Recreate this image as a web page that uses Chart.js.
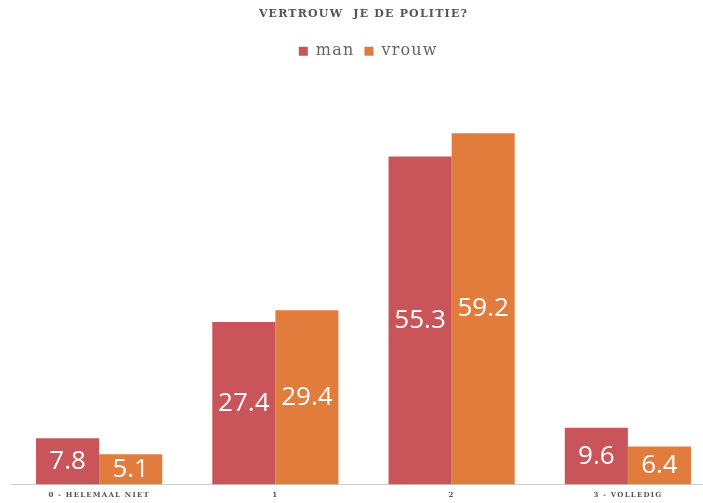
<!DOCTYPE html>
<html>
<head>
<meta charset="utf-8">
<script src="https://cdn.jsdelivr.net/npm/chart.js@4"></script>
<style>
  html, body { margin: 0; padding: 0; background: #fff; overflow: hidden; }
  #wrap { width: 716px; height: 508px; }
</style>
</head>
<body>
<div id="wrap"><canvas id="chart" width="716" height="508"></canvas></div>
<script>
// data
var categories = ["0 - HELEMAAL NIET", "1", "2", "3 - VOLLEDIG"];
var manValues = [7.8, 27.4, 55.3, 9.6];
var vrouwValues = [5.1, 29.4, 59.2, 6.4];

// letter spacing for axis text + title, labels drawn without it
var spacingPlugin = {
    id: "spacing",
    beforeDraw: function (chart) {
        chart.ctx.letterSpacing = "1.2px";
    },
    afterDatasetsDraw: function (chart) {
        var ctx = chart.ctx;
        ctx.save();
        ctx.letterSpacing = "0px";
        ctx.font = "26px 'Open Sans'";
        ctx.fillStyle = "#ffffff";
        ctx.textAlign = "center";
        ctx.textBaseline = "middle";
        chart.data.datasets.forEach(function (ds, i) {
            chart.getDatasetMeta(i).data.forEach(function (bar, j) {
                var y = (bar.y + bar.base) / 2;
                ctx.fillText(ds.data[j].toFixed(1), bar.x, y);
            });
        });
        ctx.restore();
    }
};

var ctx = document.getElementById("chart").getContext("2d");
var chart = new Chart(ctx, {
    type: "bar",
    data: {
        labels: categories,
        datasets: [{
            label: "man",
            data: manValues,
            backgroundColor: "#c9555a"
        }, {
            label: "vrouw",
            data: vrouwValues,
            backgroundColor: "#e27c3d"
        }]
    },
    options: {
        responsive: false,
        animation: false,
        layout: {
            padding: { left: 11, right: 0, top: 0, bottom: 3 }
        },
        datasets: {
            bar: {
                barPercentage: 1,
                categoryPercentage: 0.716
            }
        },
        plugins: {
            title: {
                display: true,
                text: "VERTROUW  JE DE POLITIE?",
                color: "#555555",
                font: { family: "'DejaVu Serif'", size: 11, weight: "bold" },
                padding: { top: 8, bottom: 12 }
            },
            legend: {
                display: true,
                position: "top",
                labels: {
                    boxWidth: 9,
                    boxHeight: 9,
                    padding: 10,
                    color: "#666666",
                    font: { family: "'DejaVu Serif'", size: 16 }
                }
            },
            tooltip: { enabled: false }
        },
        scales: {
            x: {
                grid: { display: false, drawTicks: false },
                border: { display: true, color: "#d0d0d0", width: 1 },
                ticks: {
                    color: "#555555",
                    font: { family: "'DejaVu Serif'", size: 7, weight: "bold" },
                    padding: 6,
                    maxRotation: 0
                }
            },
            y: {
                display: false,
                min: 0,
                max: 70
            }
        }
    },
    plugins: [spacingPlugin]
});
</script>
</body>
</html>
